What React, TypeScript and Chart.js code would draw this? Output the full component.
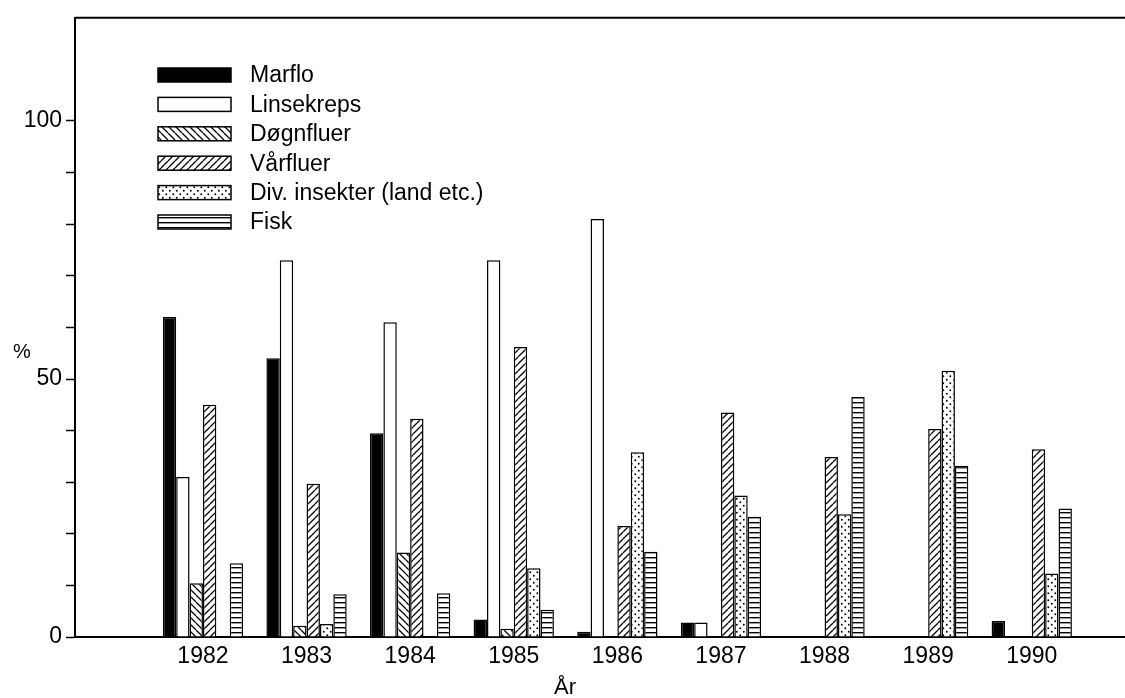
import React, { useEffect, useRef } from 'react';
import { Chart, registerables } from 'chart.js';

Chart.register(...registerables);

const years = [1982, 1983, 1984, 1985, 1986, 1987, 1988, 1989, 1990];
const seriesNames = ['Marflo', 'Linsekreps', 'Døgnfluer', 'Vårfluer', 'Div. insekter (land etc.)', 'Fisk'];
const marflo = [62, 54, 39.5, 3.4, 1, 2.8, 0, 0, 3.1];
const linsekreps = [31, 73, 61, 73, 81, 2.8, 0, 0, 0];
const dognfluer = [10.4, 2.2, 16.4, 1.6, 0, 0, 0, 0, 0];
const varfluer = [45, 29.7, 42.3, 56.2, 21.5, 43.5, 34.9, 40.3, 36.4];
const divInsekter = [0, 2.5, 0, 13.3, 35.8, 27.4, 23.8, 51.6, 12.3];
const fisk = [14.3, 8.3, 8.5, 5.3, 16.5, 23.3, 46.5, 33.2, 24.9];
const yTickValues = [0, 10, 20, 30, 40, 50, 60, 70, 80, 90, 100];
const yLabelValues = [0, 50, 100];
const xTitle = 'År';
const yTitle = '%';

const FONT = "'Liberation Sans', Arial, sans-serif";

function makePattern(kind: string): CanvasPattern | string {
  const c = document.createElement('canvas');
  const g = c.getContext('2d')!;
  if (kind === 'solid') return '#000';
  if (kind === 'white') return '#fff';
  if (kind === 'back' || kind === 'fwd') {
    const s = 7;
    c.width = s; c.height = s;
    g.fillStyle = '#fff'; g.fillRect(0, 0, s, s);
    g.strokeStyle = '#000'; g.lineWidth = 1.3;
    g.beginPath();
    for (const k of [-s, 0, s]) {
      if (kind === 'back') { g.moveTo(k, 0); g.lineTo(k + s, s); }
      else { g.moveTo(k, s); g.lineTo(k + s, 0); }
    }
    g.stroke();
  } else if (kind === 'dots') {
    const s = 7;
    c.width = s; c.height = s;
    g.fillStyle = '#fff'; g.fillRect(0, 0, s, s);
    g.fillStyle = '#000';
    g.beginPath(); g.arc(1.8, 1.8, 0.95, 0, Math.PI * 2); g.fill();
    g.beginPath(); g.arc(5.3, 5.3, 0.95, 0, Math.PI * 2); g.fill();
  } else if (kind === 'hor') {
    c.width = 4; c.height = 5;
    g.fillStyle = '#fff'; g.fillRect(0, 0, 4, 5);
    g.fillStyle = '#000'; g.fillRect(0, 2, 4, 1.4);
  }
  return g.createPattern(c, 'repeat')!;
}

export default function App() {
  const ref = useRef<HTMLCanvasElement | null>(null);
  useEffect(() => {
    const canvas = ref.current!;
    const kinds = ['solid', 'white', 'back', 'fwd', 'dots', 'hor'];
    const fills = kinds.map(makePattern);
    const values = [marflo, linsekreps, dognfluer, varfluer, divInsekter, fisk];

    const decor = {
      id: 'decor',
      afterDraw(chart: any) {
        const { ctx, chartArea } = chart;
        ctx.save();
        ctx.strokeStyle = '#000';
        ctx.lineWidth = 2;
        ctx.beginPath();
        ctx.moveTo(chartArea.left, chartArea.top);
        ctx.lineTo(chartArea.right, chartArea.top);
        ctx.stroke();
        const boxX = 158, boxW = 73, boxH = 14, textX = 250;
        const rowY0 = 75, rowStep = 29.4;
        ctx.font = `23px ${FONT}`;
        ctx.textBaseline = 'middle';
        ctx.textAlign = 'left';
        seriesNames.forEach((name, i) => {
          const cy = rowY0 + i * rowStep;
          ctx.fillStyle = fills[i] as any;
          ctx.fillRect(boxX, cy - boxH / 2, boxW, boxH);
          ctx.lineWidth = 1.5;
          ctx.strokeStyle = '#000';
          ctx.strokeRect(boxX, cy - boxH / 2, boxW, boxH);
          ctx.fillStyle = '#000';
          ctx.fillText(name, textX, cy + 1);
        });
        ctx.font = `22px ${FONT}`;
        ctx.textAlign = 'center';
        ctx.fillText(xTitle, 565, 688);
        ctx.font = `20px ${FONT}`;
        ctx.fillText(yTitle, 22, 352);
        ctx.restore();
      },
    };

    const chart = new Chart(canvas, {
      type: 'bar',
      data: {
        datasets: seriesNames.map((name, i) => ({
          label: name,
          data: years.map((yr, j) => ({ x: yr, y: values[i][j] })),
          backgroundColor: fills[i] as any,
          borderColor: '#000',
          borderWidth: 1.5,
          categoryPercentage: 0.775,
          barPercentage: 1,
        })),
      },
      options: {
        animation: false,
        responsive: false,
        devicePixelRatio: 1,
        layout: { padding: { top: 16, left: 0, right: 0, bottom: 0 } },
        plugins: { legend: { display: false }, tooltip: { enabled: false }, title: { display: false } },
        scales: {
          x: {
            type: 'linear',
            offset: false,
            min: 1980.765,
            max: 1990.9,
            afterBuildTicks: (scale: any) => { scale.ticks = years.map((v) => ({ value: v })); },
            afterFit: (scale: any) => { scale.height = 61; },
            grid: { display: false, drawOnChartArea: false, drawTicks: false },
            border: { display: true, color: '#000', width: 2 },
            ticks: {
              color: '#000',
              font: { family: FONT, size: 23 },
              padding: 6,
              maxRotation: 0,
              autoSkip: false,
              callback: (v: any) => String(v),
            },
          },
          y: {
            type: 'linear',
            min: 0,
            max: 120,
            afterBuildTicks: (scale: any) => { scale.ticks = yTickValues.map((v) => ({ value: v })); },
            afterFit: (scale: any) => { scale.width = 75; },
            grid: { display: true, drawOnChartArea: false, drawTicks: true, tickLength: 9, tickColor: '#000', tickWidth: 1.5 },
            border: { display: true, color: '#000', width: 2 },
            ticks: {
              color: '#000',
              font: { family: FONT, size: 23 },
              padding: 4,
              autoSkip: false,
              callback: (v: any) => (yLabelValues.includes(Number(v)) ? String(v) : ''),
            },
          },
        },
      },
      plugins: [decor],
    } as any);
    return () => chart.destroy();
  }, []);

  return (
    <div style={{ position: 'absolute', left: 0, top: 0, width: 1125, height: 698, background: '#fff' }}>
      <canvas ref={ref} width={1125} height={698} style={{ display: 'block', width: 1125, height: 698 }} />
    </div>
  );
}
